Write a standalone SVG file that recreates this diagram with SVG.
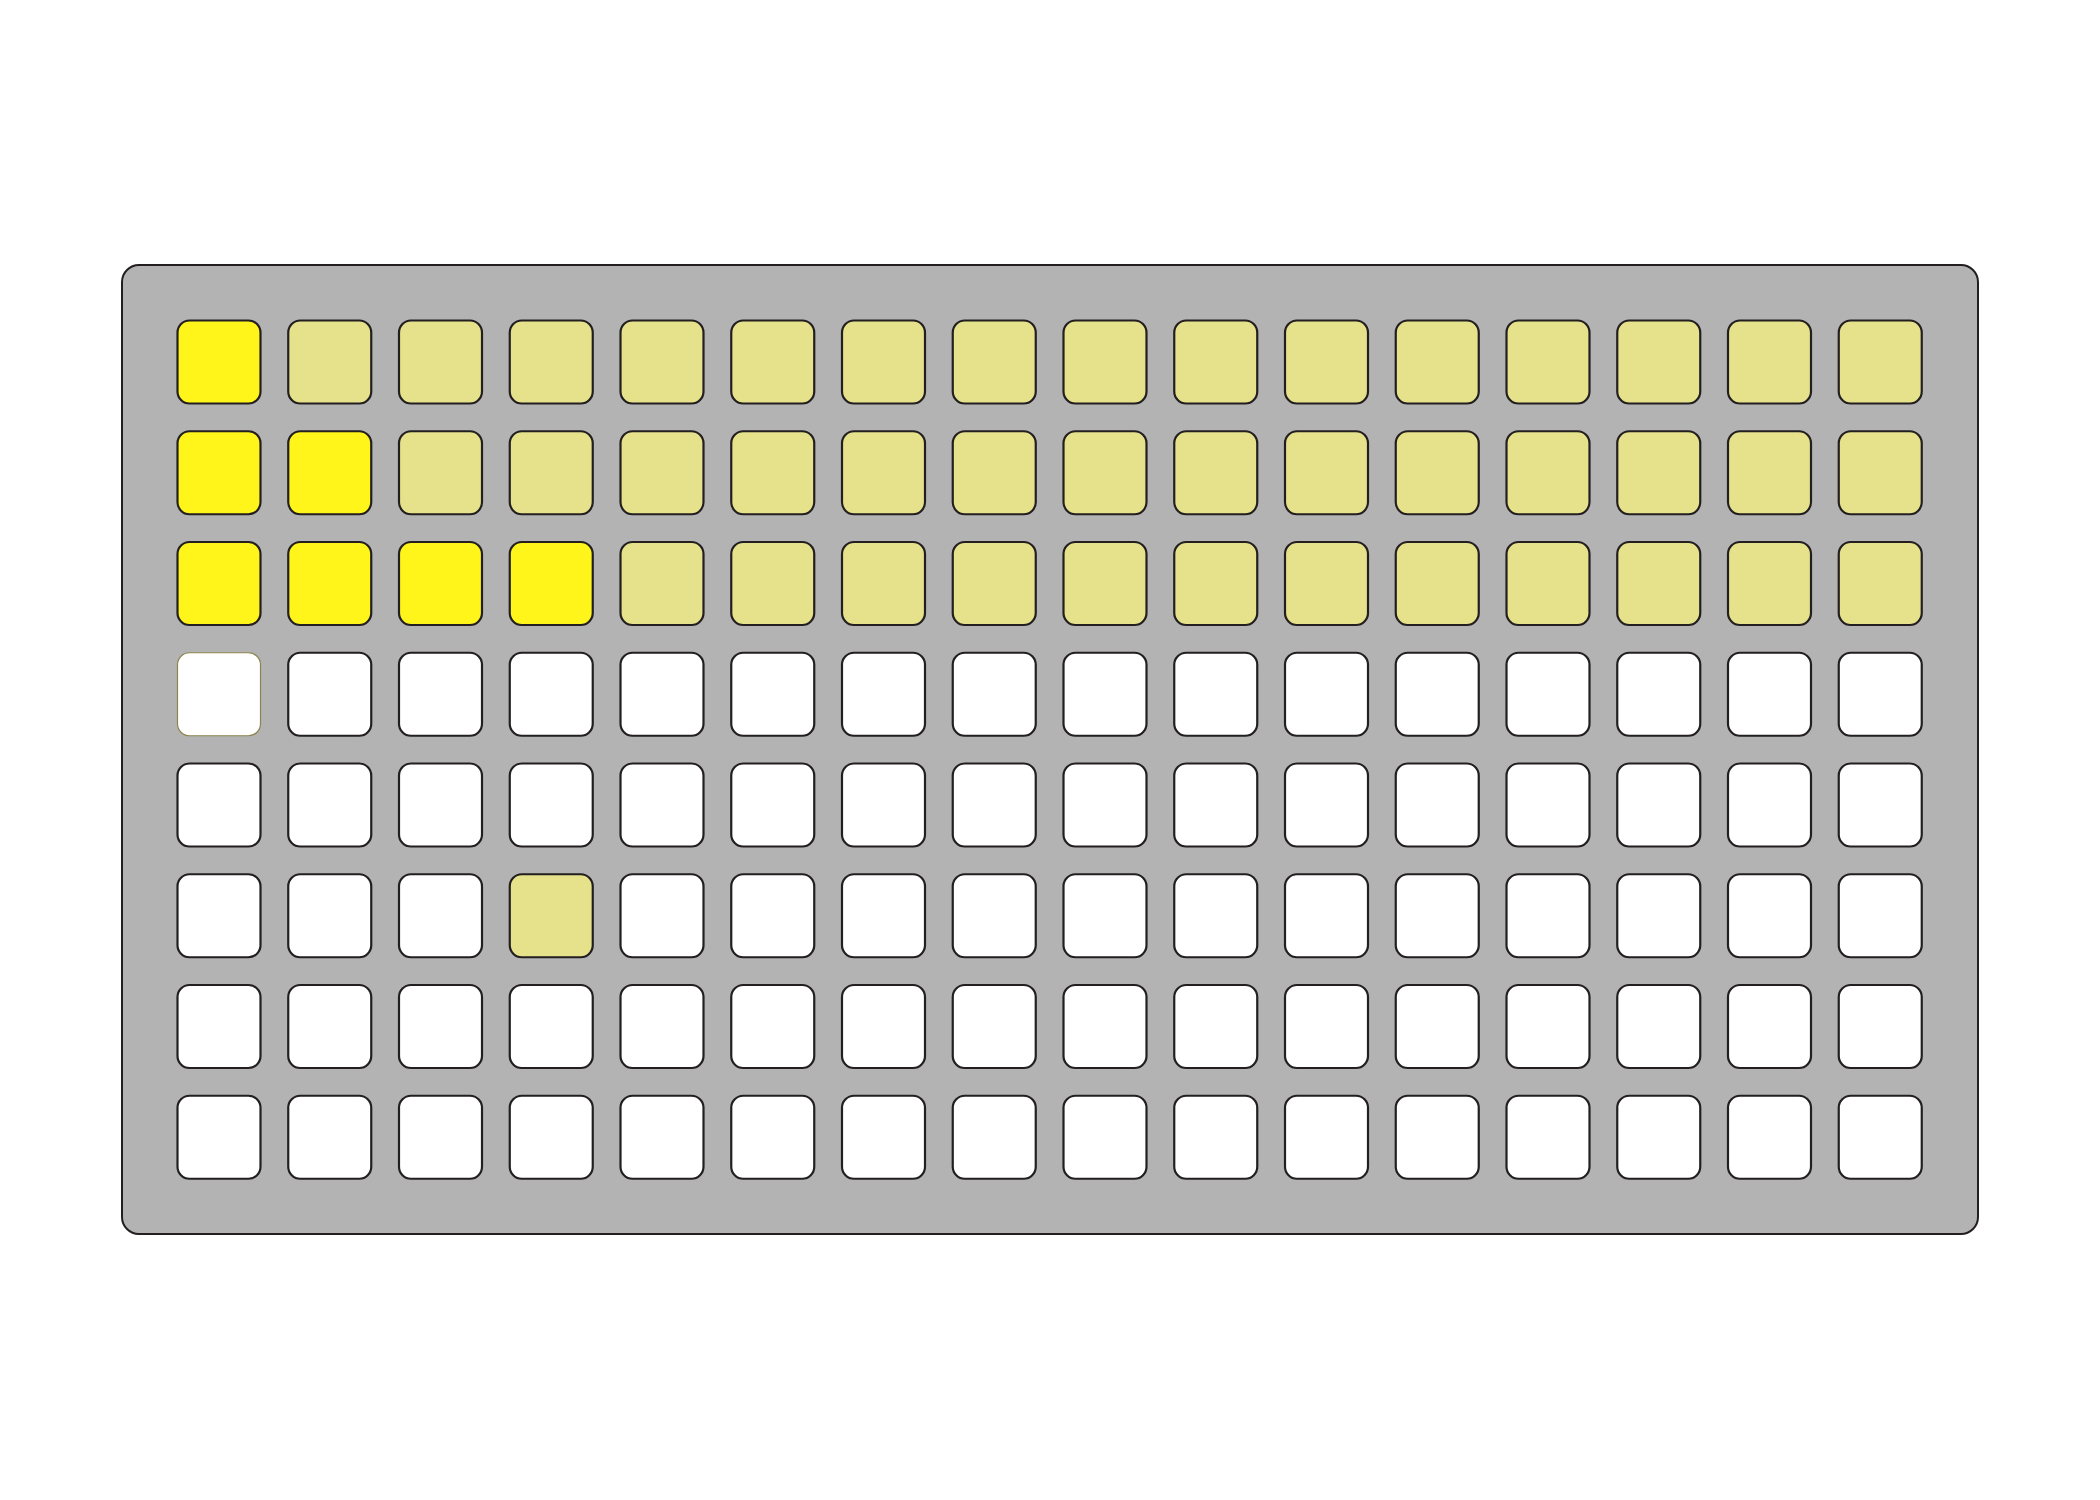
<svg xmlns="http://www.w3.org/2000/svg" width="2100" height="1500" viewBox="0 0 2100 1500">
<style>
.panel{fill:#b3b3b3;stroke:#231f20;stroke-width:2}
rect.k{stroke:#231f20;stroke-width:2.2;width:83px;height:83px;rx:12px;ry:12px}
.w{fill:#ffffff}
.y{fill:#fff51a}
.l{fill:#e6e28c}
.f{stroke:#8c8450 !important;stroke-width:1.2 !important}
</style>
<rect width="2100" height="1500" fill="#ffffff"/>
<rect class="panel" x="122" y="265" width="1856" height="969" rx="17"/>
<g id="r0">
<rect class="k y" x="177.5" y="320.5"/><rect class="k l" x="288.25" y="320.5"/><rect class="k l" x="399" y="320.5"/><rect class="k l" x="509.75" y="320.5"/><rect class="k l" x="620.5" y="320.5"/><rect class="k l" x="731.25" y="320.5"/><rect class="k l" x="842" y="320.5"/><rect class="k l" x="952.75" y="320.5"/><rect class="k l" x="1063.5" y="320.5"/><rect class="k l" x="1174.25" y="320.5"/><rect class="k l" x="1285" y="320.5"/><rect class="k l" x="1395.75" y="320.5"/><rect class="k l" x="1506.5" y="320.5"/><rect class="k l" x="1617.25" y="320.5"/><rect class="k l" x="1728" y="320.5"/><rect class="k l" x="1838.75" y="320.5"/>
</g>
<g id="r1">
<rect class="k y" x="177.5" y="431.25"/><rect class="k y" x="288.25" y="431.25"/><rect class="k l" x="399" y="431.25"/><rect class="k l" x="509.75" y="431.25"/><rect class="k l" x="620.5" y="431.25"/><rect class="k l" x="731.25" y="431.25"/><rect class="k l" x="842" y="431.25"/><rect class="k l" x="952.75" y="431.25"/><rect class="k l" x="1063.5" y="431.25"/><rect class="k l" x="1174.25" y="431.25"/><rect class="k l" x="1285" y="431.25"/><rect class="k l" x="1395.75" y="431.25"/><rect class="k l" x="1506.5" y="431.25"/><rect class="k l" x="1617.25" y="431.25"/><rect class="k l" x="1728" y="431.25"/><rect class="k l" x="1838.75" y="431.25"/>
</g>
<g id="r2">
<rect class="k y" x="177.5" y="542"/><rect class="k y" x="288.25" y="542"/><rect class="k y" x="399" y="542"/><rect class="k y" x="509.75" y="542"/><rect class="k l" x="620.5" y="542"/><rect class="k l" x="731.25" y="542"/><rect class="k l" x="842" y="542"/><rect class="k l" x="952.75" y="542"/><rect class="k l" x="1063.5" y="542"/><rect class="k l" x="1174.25" y="542"/><rect class="k l" x="1285" y="542"/><rect class="k l" x="1395.75" y="542"/><rect class="k l" x="1506.5" y="542"/><rect class="k l" x="1617.25" y="542"/><rect class="k l" x="1728" y="542"/><rect class="k l" x="1838.75" y="542"/>
</g>
<g id="r3">
<rect class="k w f" x="177.5" y="652.75"/><rect class="k w" x="288.25" y="652.75"/><rect class="k w" x="399" y="652.75"/><rect class="k w" x="509.75" y="652.75"/><rect class="k w" x="620.5" y="652.75"/><rect class="k w" x="731.25" y="652.75"/><rect class="k w" x="842" y="652.75"/><rect class="k w" x="952.75" y="652.75"/><rect class="k w" x="1063.5" y="652.75"/><rect class="k w" x="1174.25" y="652.75"/><rect class="k w" x="1285" y="652.75"/><rect class="k w" x="1395.75" y="652.75"/><rect class="k w" x="1506.5" y="652.75"/><rect class="k w" x="1617.25" y="652.75"/><rect class="k w" x="1728" y="652.75"/><rect class="k w" x="1838.75" y="652.75"/>
</g>
<g id="r4">
<rect class="k w" x="177.5" y="763.5"/><rect class="k w" x="288.25" y="763.5"/><rect class="k w" x="399" y="763.5"/><rect class="k w" x="509.75" y="763.5"/><rect class="k w" x="620.5" y="763.5"/><rect class="k w" x="731.25" y="763.5"/><rect class="k w" x="842" y="763.5"/><rect class="k w" x="952.75" y="763.5"/><rect class="k w" x="1063.5" y="763.5"/><rect class="k w" x="1174.25" y="763.5"/><rect class="k w" x="1285" y="763.5"/><rect class="k w" x="1395.75" y="763.5"/><rect class="k w" x="1506.5" y="763.5"/><rect class="k w" x="1617.25" y="763.5"/><rect class="k w" x="1728" y="763.5"/><rect class="k w" x="1838.75" y="763.5"/>
</g>
<g id="r5">
<rect class="k w" x="177.5" y="874.25"/><rect class="k w" x="288.25" y="874.25"/><rect class="k w" x="399" y="874.25"/><rect class="k l" x="509.75" y="874.25"/><rect class="k w" x="620.5" y="874.25"/><rect class="k w" x="731.25" y="874.25"/><rect class="k w" x="842" y="874.25"/><rect class="k w" x="952.75" y="874.25"/><rect class="k w" x="1063.5" y="874.25"/><rect class="k w" x="1174.25" y="874.25"/><rect class="k w" x="1285" y="874.25"/><rect class="k w" x="1395.75" y="874.25"/><rect class="k w" x="1506.5" y="874.25"/><rect class="k w" x="1617.25" y="874.25"/><rect class="k w" x="1728" y="874.25"/><rect class="k w" x="1838.75" y="874.25"/>
</g>
<g id="r6">
<rect class="k w" x="177.5" y="985"/><rect class="k w" x="288.25" y="985"/><rect class="k w" x="399" y="985"/><rect class="k w" x="509.75" y="985"/><rect class="k w" x="620.5" y="985"/><rect class="k w" x="731.25" y="985"/><rect class="k w" x="842" y="985"/><rect class="k w" x="952.75" y="985"/><rect class="k w" x="1063.5" y="985"/><rect class="k w" x="1174.25" y="985"/><rect class="k w" x="1285" y="985"/><rect class="k w" x="1395.75" y="985"/><rect class="k w" x="1506.5" y="985"/><rect class="k w" x="1617.25" y="985"/><rect class="k w" x="1728" y="985"/><rect class="k w" x="1838.75" y="985"/>
</g>
<g id="r7">
<rect class="k w" x="177.5" y="1095.75"/><rect class="k w" x="288.25" y="1095.75"/><rect class="k w" x="399" y="1095.75"/><rect class="k w" x="509.75" y="1095.75"/><rect class="k w" x="620.5" y="1095.75"/><rect class="k w" x="731.25" y="1095.75"/><rect class="k w" x="842" y="1095.75"/><rect class="k w" x="952.75" y="1095.75"/><rect class="k w" x="1063.5" y="1095.75"/><rect class="k w" x="1174.25" y="1095.75"/><rect class="k w" x="1285" y="1095.75"/><rect class="k w" x="1395.75" y="1095.75"/><rect class="k w" x="1506.5" y="1095.75"/><rect class="k w" x="1617.25" y="1095.75"/><rect class="k w" x="1728" y="1095.75"/><rect class="k w" x="1838.75" y="1095.75"/>
</g>
</svg>
